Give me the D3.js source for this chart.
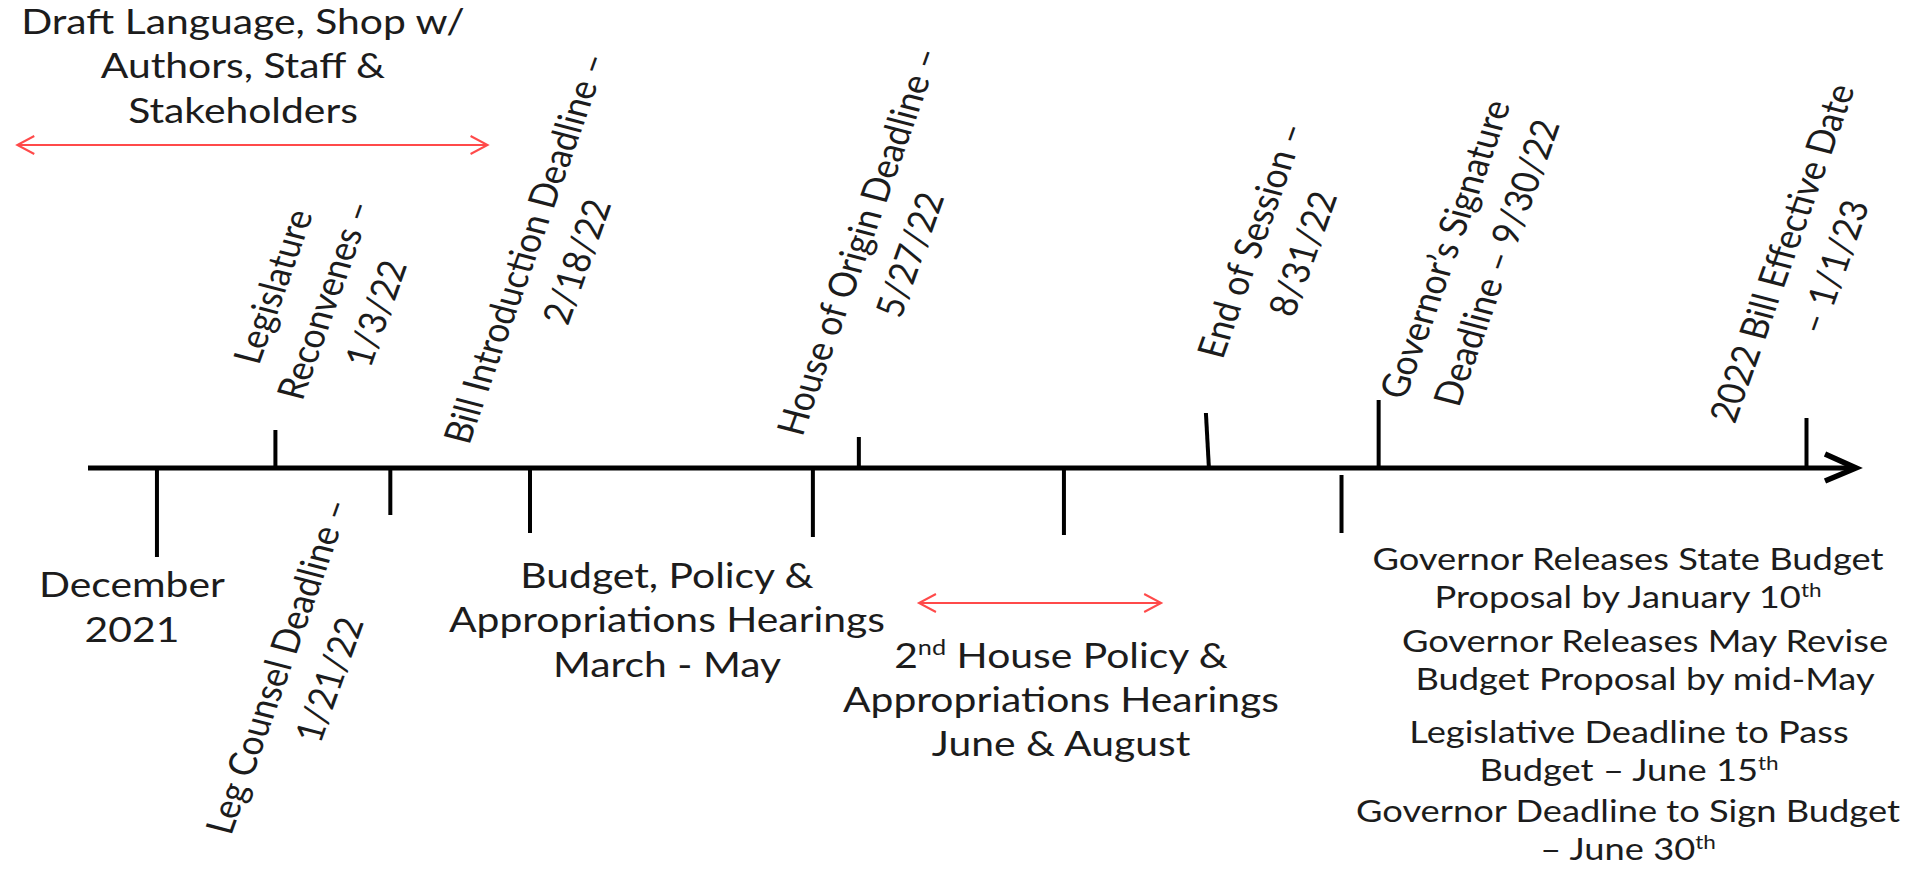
<!DOCTYPE html>
<html>
<head>
<meta charset="utf-8">
<script src="https://cdn.jsdelivr.net/npm/d3@7"></script>
<style>
  body { margin: 0; background: #fff; }
  svg { display: block; }
  text { font-family: Lato, "Noto Sans", sans-serif; fill: #1c1c1c; }
</style>
</head>
<body>
<svg></svg>
<script>
const width = 1908;
const height = 872;

// timeline: 0 = start of the axis, 100 = arrow tip
const tickPos = [3.9, 10.6, 17.1, 25.0, 41.0, 43.6, 55.2, 63.4, 70.9, 73.0, 97.2];

// labels written above the axis (rotated) and the tick each belongs to
const upperLabels = [
  ["Legislature", "Reconvenes –", "1/3/22"],
  ["Bill Introduction Deadline –", "2/18/22"],
  ["House of Origin Deadline –", "5/27/22"],
  ["End of Session –", "8/31/22"],
  ["Governor’s Signature", "Deadline – 9/30/22"],
  ["2022 Bill Effective Date", "– 1/1/23"]
];
const upperTick = [1, 3, 5, 7, 9, 10];

// rotated label below the axis
const lowerLabels = [["Leg Counsel Deadline –", "1/21/22"]];
const lowerTick = [2];

// horizontal notes
const startLabel = ["December", "2021"];
const draftLabel = ["Draft Language, Shop w/", "Authors, Staff &", "Stakeholders"];
const hearings1 = ["Budget, Policy &", "Appropriations Hearings", "March - May"];
const hearings2 = ["2{nd} House Policy &", "Appropriations Hearings", "June & August"];
const budgetNotes = [
  ["Governor Releases State Budget", "Proposal by January 10{th}"],
  ["Governor Releases May Revise", "Budget Proposal by mid-May"],
  ["Legislative Deadline to Pass", "Budget – June 15{th}"],
  ["Governor Deadline to Sign Budget", "– June 30{th}"]
];

// red range arrows, in timeline units
const ranges = [[-4.0, 22.6], [47.0, 60.7]];

// ---- layout ----
const sx = 1.17;       // picture is stretched sideways
const angle = -73;
const axisY = 468;
const tickEnd = [89, -38, 47, 65, 69, -31, 67, -55, 65, -68, -50];
const tickStart = [0, 0, 0, 0, 0, 0, 0, 0, 7, 0, 0];
const tickLean = [0, 0, 0, 0, 0, 0, 0, -3, 0, 0, 0];
const upperOffset = [[49, 300], [21, 255], [25, 248], [68, 247], [92, 256], [1, 260]];
const lowerOffset = [[-87, 673]];
const rangeY = [145, 603];

const svg = d3.select("svg").attr("width", width).attr("height", height);

const x = d3.scaleLinear().domain([0, 100]).range([88, 1856]);

// font: sizes given in Calibri terms, drawn with Lato
const capRatio = 0.644 / 0.717;
const probe = svg.append("text").attr("font-size", 100).text("Appropriations Hearings");
const k = (9.886 * 100) / (capRatio * probe.node().getComputedTextLength());
probe.remove();

function writeLine(sel, str, size) {
  const t = sel.append("text")
    .attr("text-anchor", "middle")
    .attr("font-size", size * capRatio);
  str.split(/(\{[^}]*\})/).filter((s) => s.length).forEach((part) => {
    if (part[0] === "{") {
      t.append("tspan")
        .attr("baseline-shift", "super")
        .attr("font-size", size * capRatio * 0.62)
        .text(part.slice(1, -1));
    } else {
      t.append("tspan").text(part);
    }
  });
  return t;
}

function block(lines, cx, baseY, size, lh) {
  const g = svg.append("g")
    .attr("transform", `translate(${cx},${baseY}) scale(${sx * k},1)`);
  lines.forEach((l, i) => {
    writeLine(g, l, size).attr("y", i * lh);
  });
}

function rotatedBlock(lines, cx, cy, size, lh) {
  const g = svg.append("g")
    .attr("transform", `translate(${cx},${cy}) scale(${sx},1) rotate(${angle}) scale(${k},1)`);
  lines.forEach((l, i) => {
    writeLine(g, l, size).attr("y", (i - (lines.length - 1) / 2) * lh + 0.32 * size);
  });
}

//axis line + arrow
svg.append("line")
  .attr("x1", x(0)).attr("x2", x(100))
  .attr("y1", axisY).attr("y2", axisY)
  .attr("stroke", "#000").attr("stroke-width", 5);

svg.append("path")
  .attr("d", `M${x(100) - 31},${axisY - 14}L${x(100)},${axisY}L${x(100) - 31},${axisY + 13}`)
  .attr("fill", "none").attr("stroke", "#000").attr("stroke-width", 5.5)
  .attr("stroke-linejoin", "miter");

//ticks
svg.append("g")
  .selectAll("line")
  .data(tickPos)
  .enter()
  .append("line")
  .attr("x1", (d) => x(d))
  .attr("x2", (d, i) => x(d) + tickLean[i])
  .attr("y1", (d, i) => axisY + tickStart[i])
  .attr("y2", (d, i) => axisY + tickEnd[i])
  .attr("stroke", "#000")
  .attr("stroke-width", 4);

//red ranges
ranges.forEach((r, i) => {
  const x1 = x(r[0]);
  const x2 = x(r[1]);
  const y = rangeY[i];
  svg.append("path")
    .attr("d", `M${x1},${y}H${x2}M${x1 + 17},${y - 9}L${x1},${y}L${x1 + 17},${y + 9}` +
      `M${x2 - 17},${y - 9}L${x2},${y}L${x2 - 17},${y + 9}`)
    .attr("fill", "none")
    .attr("stroke", "#ff4a4a")
    .attr("stroke-width", 2);
});

//rotated milestone labels
upperLabels.forEach((lines, i) => {
  const tx = x(tickPos[upperTick[i]]);
  rotatedBlock(lines, tx + upperOffset[i][0], upperOffset[i][1], 36.5, 46);
});
lowerLabels.forEach((lines, i) => {
  const tx = x(tickPos[lowerTick[i]]);
  rotatedBlock(lines, tx + lowerOffset[i][0], lowerOffset[i][1], 36.5, 46);
});

//horizontal notes
block(draftLabel, 243, 34, 37.7, 44.5);
block(startLabel, x(tickPos[0]) - 25, 597, 37.7, 45);
block(hearings1, 667, 588, 37.7, 44.5);
block(hearings2, 1061, 668, 37.7, 44);

const notesX = [1628, 1645, 1629, 1628];
const notesY = [570, 652, 743, 822];
budgetNotes.forEach((lines, i) => {
  block(lines, notesX[i], notesY[i], 33.5, 38);
});
</script>
</body>
</html>
